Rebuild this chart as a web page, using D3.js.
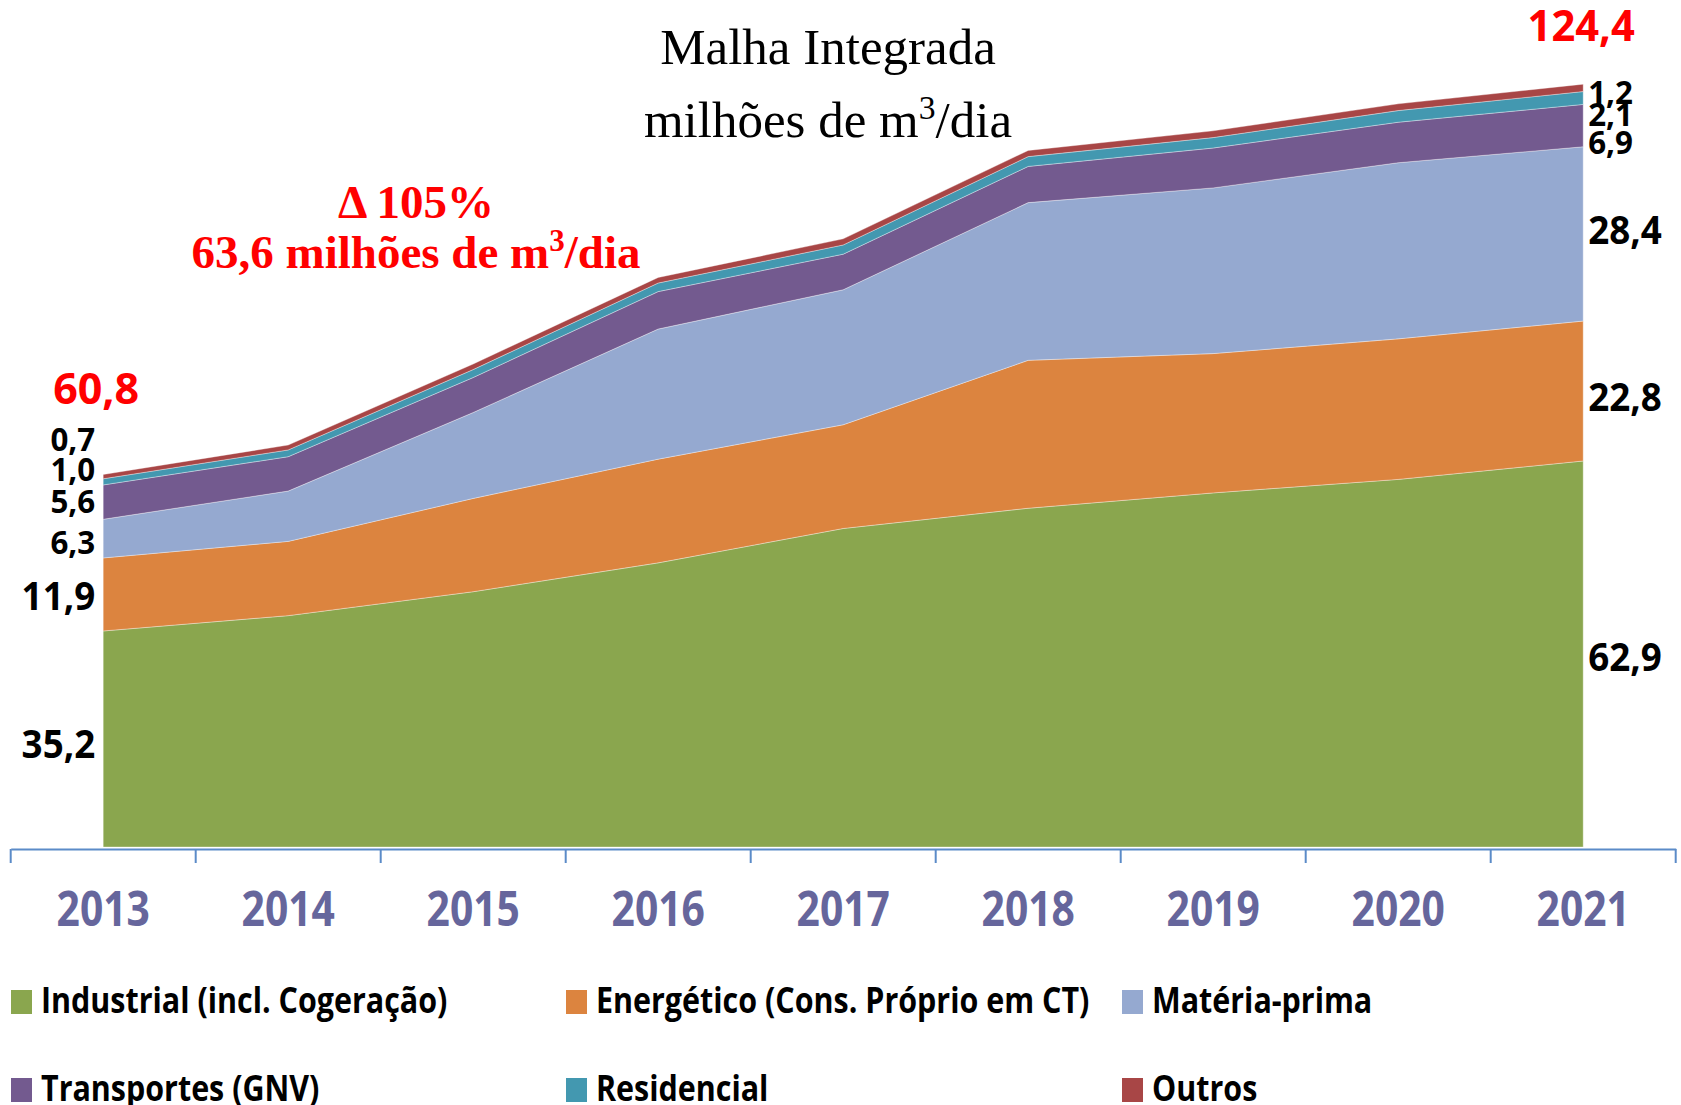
<!DOCTYPE html>
<html>
<head>
<meta charset="utf-8">
<script src="https://cdn.jsdelivr.net/npm/d3@7"></script>
<style>
  body { margin: 0; background: #fff; }
  svg { display: block; }
</style>
</head>
<body>
<div id="chart"></div>
<script>
// Data (milhões de m3/dia)
const years = [2013, 2014, 2015, 2016, 2017, 2018, 2019, 2020, 2021];
const industrial   = [35.2, 37.7, 41.6, 46.3, 51.9, 55.2, 57.7, 59.9, 62.9];
const energetico   = [11.9, 12.1, 15.2, 16.9, 16.9, 24.1, 22.7, 22.9, 22.8];
const materiaPrima = [6.3, 8.2, 14.0, 21.2, 22.0, 25.7, 27.0, 28.7, 28.4];
const transportes  = [5.6, 5.6, 5.7, 6.1, 5.8, 5.9, 6.5, 6.6, 6.9];
const residencial  = [1.0, 1.1, 1.3, 1.4, 1.5, 1.6, 1.7, 1.9, 2.1];
const outros       = [0.7, 0.8, 0.9, 0.9, 1.0, 1.0, 1.1, 1.1, 1.2];

const seriesNames = ["Industrial (incl. Cogeração)", "Energético (Cons. Próprio em CT)", "Matéria-prima",
                     "Transportes (GNV)", "Residencial", "Outros"];
const seriesValues = [industrial, energetico, materiaPrima, transportes, residencial, outros];
const startLabels = ["35,2", "11,9", "6,3", "5,6", "1,0", "0,7"];
const endLabels   = ["62,9", "22,8", "28,4", "6,9", "2,1", "1,2"];
const totalStart = "60,8";
const totalEnd = "124,4";

const colors = ["#8aa64e", "#dc843f", "#95a9d0", "#735a8f", "#4398b0", "#a84646"];

const W = 1681, H = 1105;
const keys = seriesNames.map((d, i) => "s" + i);
const table = years.map((y, j) => {
    const row = { year: y };
    keys.forEach((k, i) => row[k] = seriesValues[i][j]);
    return row;
});

const svg = d3.select("#chart").append("svg")
    .attr("width", W).attr("height", H)
    .attr("viewBox", `0 0 ${W} ${H}`);

const x = d3.scaleBand().domain(years).range([10.7, 1675.7]).padding(0);
const y = d3.scaleLinear().domain([0, 130]).range([847, 49.2]);
const cx = d => x(d) + x.bandwidth() / 2;

const stacked = d3.stack().keys(keys)(table);

const area = d3.area()
    .x(d => cx(d.data.year))
    .y0(d => y(d[0]))
    .y1(d => y(d[1]));

svg.append("g").selectAll("path")
    .data(stacked)
    .enter().append("path")
    .attr("d", area)
    .attr("fill", (d, i) => colors[i])
    .attr("stroke", "rgba(255,255,255,0.35)")
    .attr("stroke-width", 1);

// axis: line + ticks at category boundaries
const axisY = 849;
const ax = svg.append("g").attr("transform", `translate(0,${axisY})`);
ax.call(d3.axisBottom(x).tickSize(0).tickFormat(""));
ax.select(".domain").attr("stroke", "#5b8bc8").attr("stroke-width", 2);
const bounds = years.map(d => x(d)).concat([x.range()[1]]);
ax.selectAll("line.bt").data(bounds).enter().append("line")
    .attr("class", "bt")
    .attr("x1", d => d).attr("x2", d => d)
    .attr("y1", 0).attr("y2", 14)
    .attr("stroke", "#5b8bc8").attr("stroke-width", 2);

// text helper with horizontal squeeze; "^" marks a superscript 3
function label(g, txt, px, py, o) {
    const t = g.append("text")
        .attr("transform", `translate(${px},${py}) scale(${o.sx || 1},1)`)
        .attr("text-anchor", o.anchor || "start")
        .attr("font-family", o.family || "'Open Sans', 'Noto Sans', sans-serif")
        .attr("font-weight", o.weight || "bold")
        .attr("font-size", o.size)
        .attr("fill", o.fill || "#000");
    const parts = String(txt).split("^");
    if (parts.length === 1) {
        t.text(txt);
    } else {
        t.append("tspan").text(parts[0]);
        t.append("tspan").attr("dy", -o.size * 0.36).attr("font-size", o.size * 0.66).text("3");
        t.append("tspan").attr("dy", o.size * 0.36).text(parts[1]);
    }
    return t;
}

// year labels
years.forEach(yr => label(svg, yr, cx(yr), 926, { size: 48, sx: 0.85, anchor: "middle", fill: "#66669c" }));

// data labels at the ends
const first = stacked.map(s => s[0]);
const last = stacked.map(s => s[s.length - 1]);
const bigStyle = { size: 40, sx: 0.92 };
const smallStyle = { size: 33, sx: 0.95 };
const startNudge = [5, 2, 3, -1, -13, -38];
const endNudge = [3, 6, -4, 16, 16, 4];
first.forEach((d, i) => {
    const st = i < 2 ? bigStyle : smallStyle;
    const off = i < 2 ? 14 : 12;
    label(svg, startLabels[i], cx(years[0]) - 8, y((d[0] + d[1]) / 2) + off + startNudge[i],
        Object.assign({ anchor: "end" }, st));
});
last.forEach((d, i) => {
    const st = i < 3 ? bigStyle : smallStyle;
    const off = i < 3 ? 14 : 12;
    label(svg, endLabels[i], cx(years[years.length - 1]) + 5, y((d[0] + d[1]) / 2) + off + endNudge[i],
        Object.assign({ anchor: "start" }, st));
});

// totals
label(svg, totalStart, cx(years[0]) - 7, 404, { size: 43, anchor: "middle", fill: "#ff0000" });
label(svg, totalEnd, cx(years[years.length - 1]) - 2, 41, { size: 43, sx: 0.97, anchor: "middle", fill: "#ff0000" });

// title
const serif = "'Liberation Serif', 'DejaVu Serif', serif";
label(svg, "Malha Integrada", 828, 64, { size: 51, anchor: "middle", family: serif, weight: "normal" });
label(svg, "milhões de m^/dia", 828, 137, { size: 51, anchor: "middle", family: serif, weight: "normal" });

// growth annotation
label(svg, "Δ 105%", 416, 218, { size: 47, anchor: "middle", family: serif, fill: "#ff0000" });
label(svg, "63,6 milhões de m^/dia", 416, 268, { size: 47, anchor: "middle", family: serif, fill: "#ff0000" });

// legend
const legX = [11, 566, 1122];
const legY = [1013, 1101];
seriesNames.forEach((name, i) => {
    const lx = legX[i % 3], ly = legY[Math.floor(i / 3)];
    svg.append("rect")
        .attr("x", lx).attr("y", ly - 23)
        .attr("width", 21).attr("height", 24)
        .attr("fill", colors[i]);
    label(svg, name, lx + 30, ly, { size: 35, sx: 0.87 });
});
</script>
</body>
</html>
